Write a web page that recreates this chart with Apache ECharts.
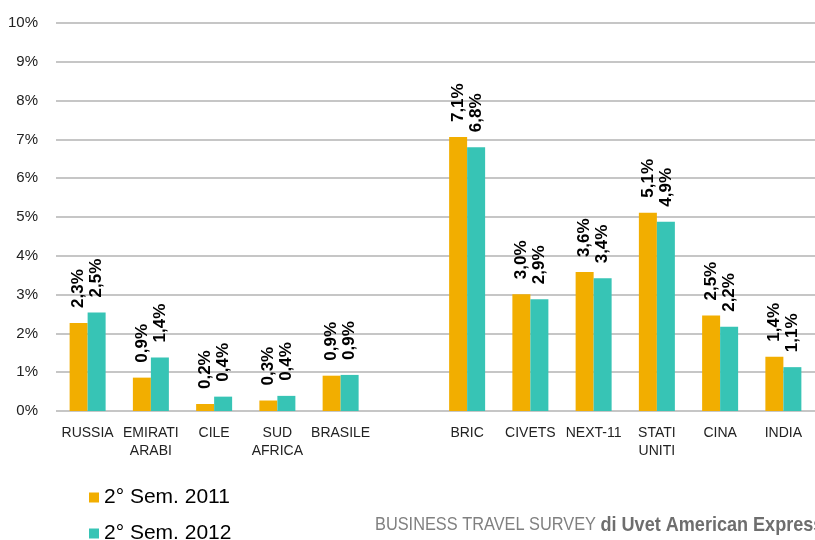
<!DOCTYPE html>
<html><head><meta charset="utf-8">
<script src="https://cdn.jsdelivr.net/npm/echarts@6/dist/echarts.min.js"></script>
<style>html,body{margin:0;padding:0;background:#fff}#c{width:815px;height:540px}</style>
</head><body><div id="c"></div>
<script>
const categories = ['RUSSIA','EMIRATI\nARABI','CILE','SUD\nAFRICA','BRASILE','','BRIC','CIVETS','NEXT-11','STATI\nUNITI','CINA','INDIA'];
const sem2011 = [2.27, 0.86, 0.18, 0.27, 0.91, '-', 7.06, 3.01, 3.58, 5.11, 2.46, 1.40];
const sem2012 = [2.54, 1.38, 0.37, 0.39, 0.93, '-', 6.80, 2.88, 3.42, 4.88, 2.17, 1.13];
const seriesNames = ['2° Sem. 2011','2° Sem. 2012'];
const yTicks = [0,1,2,3,4,5,6,7,8,9,10];

const chart = echarts.init(document.getElementById('c'), null, {renderer:'canvas'});
const lbl = {
  show:true, rotate:90, position:'top', align:'left', verticalAlign:'middle', distance:15,
  fontFamily:'Liberation Sans, Arial, sans-serif', fontWeight:'bold', fontSize:17, color:'#000',
  formatter: p => p.value.toFixed(1).replace('.', ',') + '%'
};
const legendText = {fontFamily:'Liberation Sans, Arial, sans-serif', fontSize:21, color:'#000'};
chart.setOption({
  animation:false,
  grid:{left:56, top:23, bottom:129, width:832, containLabel:false},
  legend:[
    {left:89, top:487, padding:0, itemWidth:10, itemHeight:10, icon:'rect', textStyle:legendText, data:[seriesNames[0]]},
    {left:89, top:523, padding:0, itemWidth:10, itemHeight:10, icon:'rect', textStyle:legendText, data:[seriesNames[1]]}
  ],
  xAxis:{
    type:'category', data:categories,
    axisLine:{show:false}, axisTick:{show:false},
    axisLabel:{interval:0, margin:13, fontFamily:'Liberation Sans, Arial, sans-serif', fontSize:14, color:'#222', lineHeight:18}
  },
  yAxis:{
    type:'value', min:yTicks[0], max:yTicks[yTicks.length-1], interval:1,
    axisLine:{show:false}, axisTick:{show:false},
    axisLabel:{margin:18, formatter:'{value}%', fontFamily:'Liberation Sans, Arial, sans-serif', fontSize:15, color:'#222'},
    splitLine:{lineStyle:{color:'#c6c6c6', width:2}}
  },
  series:[
    {name:seriesNames[0], type:'bar', data:sem2011, barWidth:18, barGap:'0%', itemStyle:{color:'#F2AE00'}, label:lbl},
    {name:seriesNames[1], type:'bar', data:sem2012, barWidth:18, itemStyle:{color:'#37C4B5'}, label:lbl}
  ],
  graphic:[{
    type:'text', x:375, y:525, scaleX:0.86, scaleY:1,
    style:{
      text:'{a|BUSINESS TRAVEL SURVEY }{b|di Uvet American Express}',
      verticalAlign:'middle', fill:'#7f7f7f',
      rich:{
        a:{fontFamily:'Liberation Sans, Arial, sans-serif', fontSize:19, fill:'#808080', color:'#808080'},
        b:{fontFamily:'Liberation Sans, Arial, sans-serif', fontSize:21, fontWeight:'bold', fill:'#6e6e6e', color:'#6e6e6e'}
      }
    }
  }]
});
</script></body></html>
